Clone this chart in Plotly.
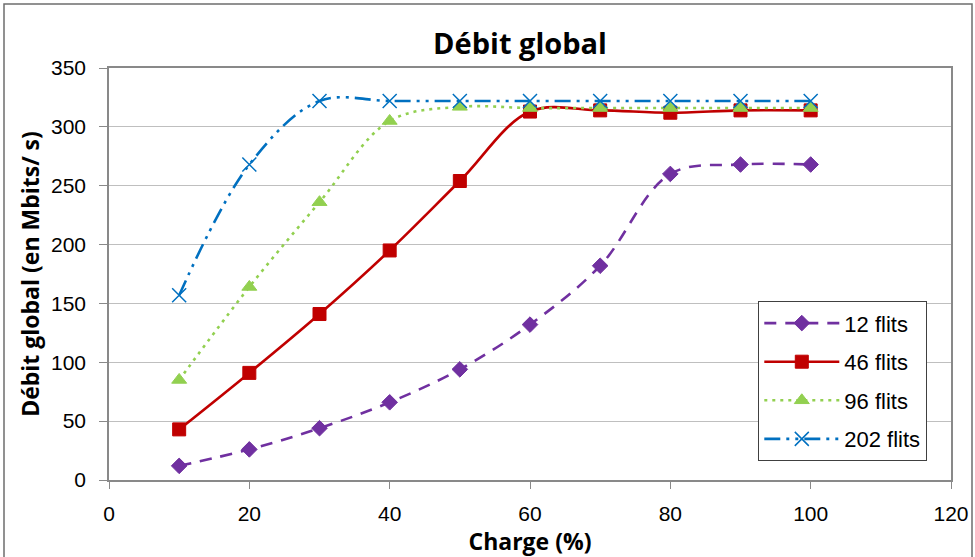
import plotly.graph_objects as go

charge = [10, 20, 30, 40, 50, 60, 70, 80, 90, 100]
flits_12 = [12, 26, 44, 66, 94, 132, 182, 260, 268, 268]
flits_46 = [43, 91, 141, 195, 254, 313, 314, 312, 314, 314]
flits_96 = [85, 164, 236, 305, 317, 316, 316, 316, 316, 316]
flits_202 = [157, 268, 322, 322, 322, 322, 322, 322, 322, 322]

series = [
    ("12 flits", flits_12, "#7030A0", "12px,9px", "diamond", 12, 1),
    ("46 flits", flits_46, "#C00000", "solid", "square", 13, 1),
    ("96 flits", flits_96, "#92D050", "3px,5px", "triangle-up", 13, 1),
    ("202 flits", flits_202, "#0070C0", "16px,6px,3px,6px,3px,6px", "x-thin", 14, 1.5),
]

fig = go.Figure()
for i, (name, ys, color, dash, sym, size, mlw) in enumerate(series):
    fig.add_trace(go.Scatter(
        x=charge, y=ys, name=name, mode="lines+markers", legendgroup=f"g{i}",
        line=dict(color=color, width=2.6, dash=dash, shape="spline", smoothing=1.0),
        marker=dict(symbol=sym, size=size, color=color,
                    line=dict(color=color, width=mlw)),
    ))

fig.update_layout(
    width=975, height=557,
    margin=dict(l=109, r=24, t=68, b=77),
    paper_bgcolor="white", plot_bgcolor="white",
    title=dict(text="<b>Débit global</b>", x=520/975, xanchor="center",
               y=1 - 44/557, yanchor="middle",
               font=dict(family="Open Sans", size=29, color="black")),
    xaxis=dict(range=[0, 120], tickvals=[0, 20, 40, 60, 80, 100, 120],
               showgrid=False, zeroline=False, automargin=False,
               showline=True, linecolor="#898989", linewidth=1.5, mirror=True,
               ticks="outside", ticklen=7, tickcolor="#898989", ticklabelstandoff=7,
               tickfont=dict(family="Liberation Sans", size=21, color="black"),
               title=dict(text="<b>Charge (%)</b>", standoff=13,
                          font=dict(family="Open Sans", size=23, color="black"))),
    yaxis=dict(range=[0, 350], tickvals=[0, 50, 100, 150, 200, 250, 300, 350],
               showgrid=True, gridcolor="#BFBFBF", gridwidth=1.3, zeroline=False,
               automargin=False,
               showline=True, linecolor="#898989", linewidth=1.5, mirror=True,
               ticks="outside", ticklen=8, tickcolor="#898989", ticklabelstandoff=9,
               tickfont=dict(family="Liberation Sans", size=21, color="black"),
               title=dict(text="<b>Débit global (en Mbits/ s)</b>", standoff=5,
                          font=dict(family="Open Sans", size=23, color="black"))),
    legend=dict(x=(758 - 109) / 842, y=1 - (301 - 68) / 412, xanchor="left", yanchor="top",
                bgcolor="white", bordercolor="#404040", borderwidth=1.3,
                font=dict(family="Liberation Sans", size=22, color="black"),
                traceorder="grouped", tracegroupgap=7, itemwidth=75),
    showlegend=True,
)

fig.add_shape(type="rect", xref="paper", yref="paper",
              x0=(4 - 109) / 842, x1=(972 - 109) / 842,
              y0=-(562 - 480) / 412, y1=1 + (68 - 4) / 412,
              line=dict(color="#6E6E6E", width=1.5), layer="below")

fig.write_html("out.html", config={"displayModeBar": False},
               post_script="document.body.style.margin='0';")
